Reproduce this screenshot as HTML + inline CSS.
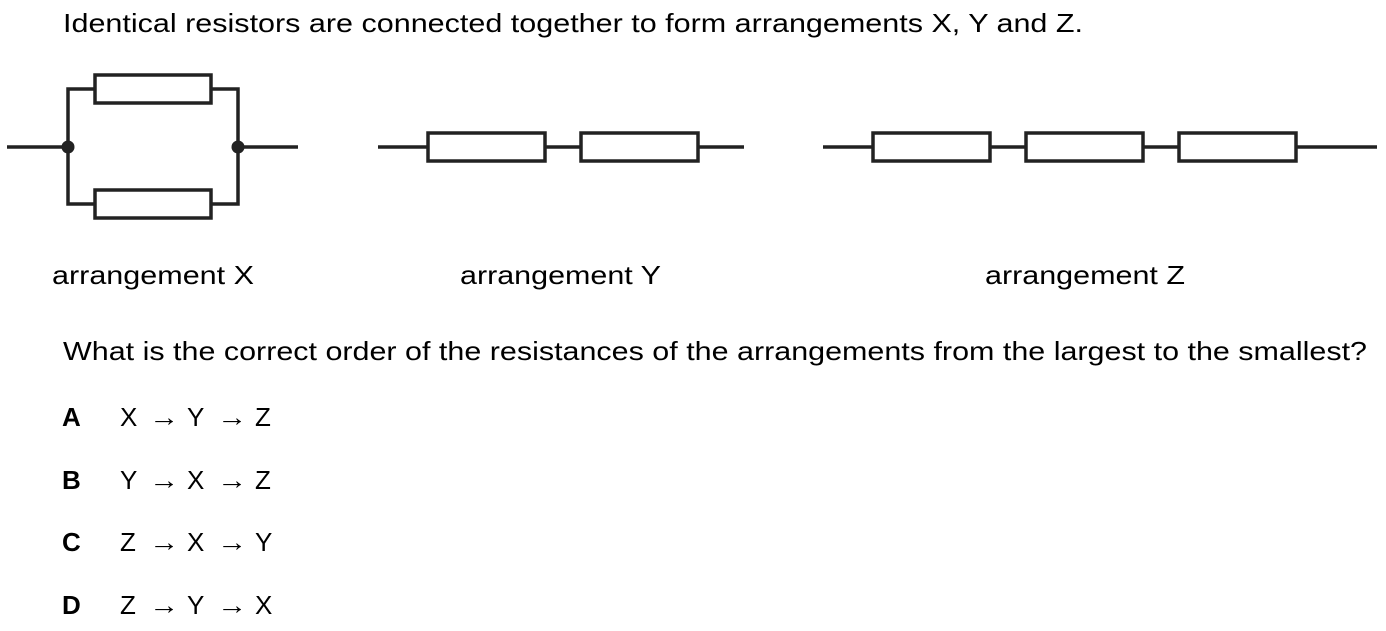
<!DOCTYPE html>
<html><head><meta charset="utf-8"><style>
html,body{margin:0;padding:0;background:#fff;}
svg{display:block;}
text{font-family:"Liberation Sans",Arial,sans-serif;font-size:26px;fill:#000;}
</style></head><body>
<svg width="1386" height="631" viewBox="0 0 1386 631">
<text x="63" y="32" textLength="1020" lengthAdjust="spacingAndGlyphs">Identical resistors are connected together to form arrangements X, Y and Z.</text>
<g stroke="#222" stroke-width="3.5" fill="none">
<line x1="7" y1="147" x2="68" y2="147"/>
<line x1="238" y1="147" x2="298" y2="147"/>
<polyline points="95,89 68,89 68,204 95,204"/>
<polyline points="211,89 238,89 238,204 211,204"/>
<rect x="95" y="75" width="116" height="28"/>
<rect x="95" y="190" width="116" height="28"/>
<circle cx="68" cy="147" r="6.5" fill="#222" stroke="none"/>
<circle cx="238" cy="147" r="6.5" fill="#222" stroke="none"/>
</g>
<g stroke="#222" stroke-width="3.5" fill="none">
<line x1="378" y1="147" x2="428" y2="147"/>
<rect x="428" y="133" width="117" height="28"/>
<line x1="545" y1="147" x2="581" y2="147"/>
<rect x="581" y="133" width="117" height="28"/>
<line x1="698" y1="147" x2="744" y2="147"/>
</g>
<g stroke="#222" stroke-width="3.5" fill="none">
<line x1="823" y1="147" x2="873" y2="147"/>
<rect x="873" y="133" width="117" height="28"/>
<line x1="990" y1="147" x2="1026" y2="147"/>
<rect x="1026" y="133" width="117" height="28"/>
<line x1="1143" y1="147" x2="1179" y2="147"/>
<rect x="1179" y="133" width="117" height="28"/>
<line x1="1296" y1="147" x2="1377" y2="147"/>
</g>
<text x="52" y="284" textLength="202" lengthAdjust="spacingAndGlyphs">arrangement X</text>
<text x="460" y="284" textLength="201" lengthAdjust="spacingAndGlyphs">arrangement Y</text>
<text x="985" y="284" textLength="200" lengthAdjust="spacingAndGlyphs">arrangement Z</text>
<text x="63" y="360" textLength="1304" lengthAdjust="spacingAndGlyphs">What is the correct order of the resistances of the arrangements from the largest to the smallest?</text>
<g><text x="62" y="426" font-weight="bold">A</text><text x="120" y="426">X</text><text x="149" y="426" textLength="30" lengthAdjust="spacingAndGlyphs">→</text><text x="187" y="426">Y</text><text x="217" y="426" textLength="30" lengthAdjust="spacingAndGlyphs">→</text><text x="255" y="426">Z</text></g>
<g><text x="62" y="489" font-weight="bold">B</text><text x="120" y="489">Y</text><text x="149" y="489" textLength="30" lengthAdjust="spacingAndGlyphs">→</text><text x="187" y="489">X</text><text x="217" y="489" textLength="30" lengthAdjust="spacingAndGlyphs">→</text><text x="255" y="489">Z</text></g>
<g><text x="62" y="551" font-weight="bold">C</text><text x="120" y="551">Z</text><text x="149" y="551" textLength="30" lengthAdjust="spacingAndGlyphs">→</text><text x="187" y="551">X</text><text x="217" y="551" textLength="30" lengthAdjust="spacingAndGlyphs">→</text><text x="255" y="551">Y</text></g>
<g><text x="62" y="614" font-weight="bold">D</text><text x="120" y="614">Z</text><text x="149" y="614" textLength="30" lengthAdjust="spacingAndGlyphs">→</text><text x="187" y="614">Y</text><text x="217" y="614" textLength="30" lengthAdjust="spacingAndGlyphs">→</text><text x="255" y="614">X</text></g>
</svg>
</body></html>
